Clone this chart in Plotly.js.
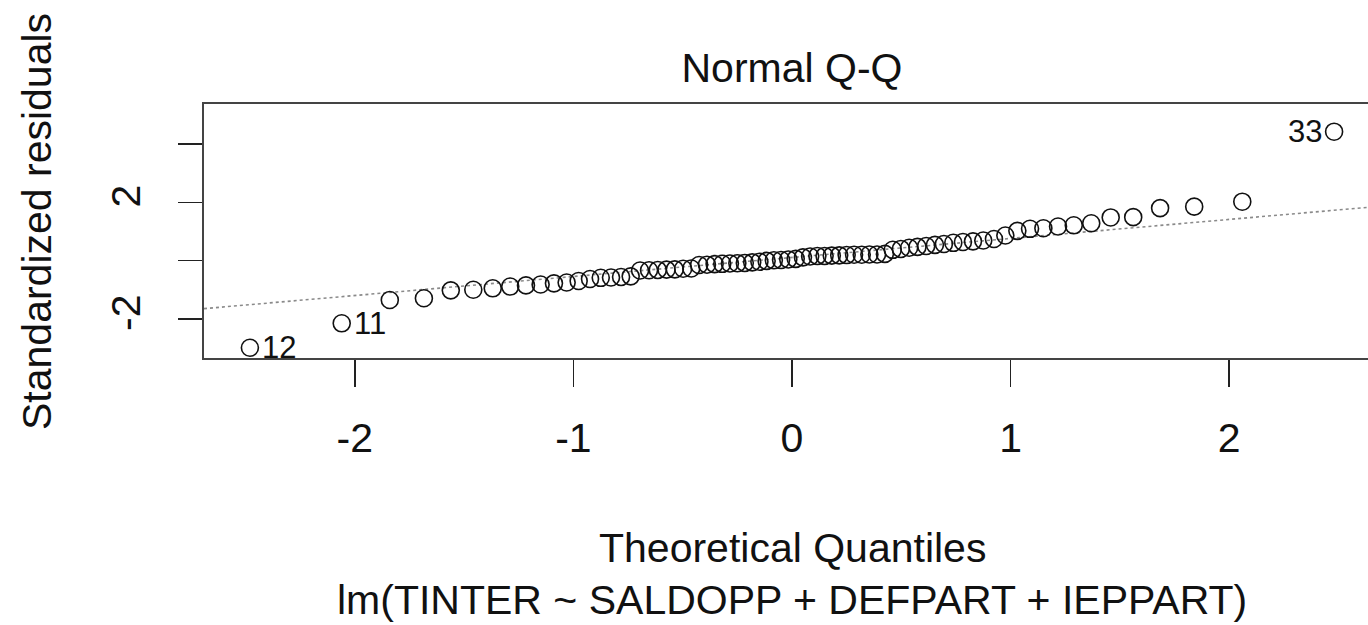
<!DOCTYPE html>
<html>
<head>
<meta charset="utf-8">
<script src="https://cdn.plot.ly/plotly-3.0.1.min.js"></script>
<style>
html,body{margin:0;padding:0;overflow:hidden;background:#fff;}
#chart{width:1400px;height:625px;}
</style>
</head>
<body>
<div id="chart"></div>
<script>
// Theoretical quantiles (x)
const theoreticalQuantiles = [-2.48,-2.06,-1.84,-1.684,-1.561,-1.458,-1.369,-1.289,-1.217,-1.150,
 -1.089,-1.031,-0.976,-0.924,-0.875,-0.828,-0.782,-0.738,-0.695,-0.654,
 -0.614,-0.574,-0.536,-0.498,-0.461,-0.425,-0.389,-0.354,-0.319,-0.284,
 -0.250,-0.216,-0.182,-0.149,-0.116,-0.083,-0.050,-0.017,
 0.017,0.050,0.083,0.116,0.149,0.182,0.216,0.250,0.284,0.319,
 0.354,0.389,0.425,0.461,0.498,0.536,0.574,0.614,0.654,0.695,
 0.738,0.782,0.828,0.875,0.924,0.976,1.031,1.089,1.150,1.217,
 1.289,1.369,1.458,1.561,1.684,1.84,2.06,2.48];
// Standardized residuals (y), sorted
const standardizedResiduals = [-2.99,-2.15,-1.35,-1.29,-1.02,-1.00,-0.95,-0.89,-0.85,-0.82,
 -0.78,-0.75,-0.70,-0.63,-0.59,-0.58,-0.56,-0.54,-0.34,-0.33,
 -0.32,-0.31,-0.30,-0.28,-0.27,-0.15,-0.14,-0.12,-0.11,-0.10,
 -0.09,-0.08,-0.06,-0.04,-0.01,0.01,0.02,0.04,0.06,0.11,
 0.14,0.16,0.16,0.17,0.18,0.19,0.20,0.20,0.21,0.21,
 0.23,0.37,0.40,0.44,0.47,0.50,0.54,0.57,0.61,0.64,
 0.66,0.69,0.74,0.86,1.02,1.09,1.11,1.17,1.21,1.28,
 1.48,1.49,1.80,1.85,2.02,4.42];
// Labelled points
const labelIndex = [0, 1, 75];
const labelText = ['12', '11', '33'];
// Axis ticks
const xTickVals = [-2, -1, 0, 1, 2];
const xTickText = ['-2', '-1', '0', '1', '2'];
const yTickVals = [-2, 0, 2, 4];
const yTickText = ['-2', '', '2', ''];
const xRange = [-2.69, 2.69];
const yRange = [-3.34, 5.37];

const titleText = 'Normal Q-Q';
const xTitleText = 'Theoretical Quantiles';
const subTitleText = 'lm(TINTER ~ SALDOPP + DEFPART + IEPPART)';
const yTitleText = 'Standardized residuals';

// qqline through the quartiles (R quantile type 7)
function q7(arr, p) {
  const s = arr.slice().sort((a, b) => a - b);
  const h = (s.length - 1) * p;
  const lo = Math.floor(h);
  return s[lo] + (h - lo) * (s[Math.min(lo + 1, s.length - 1)] - s[lo]);
}
const zq = 0.6744898;
const y25 = q7(standardizedResiduals, 0.25), y75 = q7(standardizedResiduals, 0.75);
const slope = (y75 - y25) / (2 * zq);
const intercept = y25 + slope * zq;

const FONT = 'Liberation Sans, Arial, Helvetica, sans-serif';
const TXT = '#111';

const traces = [
  {
    x: xRange, y: xRange.map(v => intercept + slope * v),
    mode: 'lines', line: {color: '#8a8a8a', width: 1.6, dash: 'dot'},
    hoverinfo: 'skip', showlegend: false
  },
  {
    x: theoreticalQuantiles, y: standardizedResiduals,
    mode: 'markers', type: 'scatter',
    marker: {symbol: 'circle-open', size: 17, color: '#111', line: {width: 1.6, color: '#111'}},
    showlegend: false
  }
];

const annotations = labelIndex.map((idx, k) => {
  const right = theoreticalQuantiles[idx] > 0;
  return {
    x: theoreticalQuantiles[idx], y: standardizedResiduals[idx], xref: 'x', yref: 'y',
    text: labelText[k], showarrow: false,
    xanchor: right ? 'right' : 'left', yanchor: 'middle',
    xshift: right ? -10 : 10, yshift: 0,
    font: {family: FONT, size: 31, color: TXT}
  };
});
annotations.push(
  {x: 0.5, y: (358 - 548) / 254, xref: 'paper', yref: 'paper', text: xTitleText, showarrow: false,
   xanchor: 'center', yanchor: 'middle', font: {family: FONT, size: 41, color: TXT}},
  {x: 0.5, y: (358 - 600) / 254, xref: 'paper', yref: 'paper', text: subTitleText, showarrow: false,
   xanchor: 'center', yanchor: 'middle', font: {family: FONT, size: 41, color: TXT}},
  {x: (37 - 204) / 1176, y: (358 - 222) / 254, xref: 'paper', yref: 'paper', text: yTitleText, showarrow: false,
   textangle: -90, xanchor: 'center', yanchor: 'middle', font: {family: FONT, size: 41, color: TXT}}
);

const layout = {
  width: 1400, height: 625,
  margin: {l: 204, r: 20, t: 104, b: 267, pad: 0},
  paper_bgcolor: '#fff', plot_bgcolor: '#fff',
  title: {text: titleText, x: 0.5, xref: 'paper', xanchor: 'center',
          y: 1 - 68 / 625, yref: 'container', yanchor: 'middle',
          font: {family: FONT, size: 41, color: TXT}},
  xaxis: {range: xRange, tickvals: xTickVals, ticktext: xTickText, ticks: 'outside', ticklen: 27,
          tickwidth: 1.5, tickcolor: '#222', showline: true, mirror: true, linecolor: '#444', linewidth: 2,
          showgrid: false, zeroline: false, ticklabelstandoff: 16,
          tickfont: {family: FONT, size: 41, color: TXT}},
  yaxis: {range: yRange, tickvals: yTickVals, ticktext: yTickText, ticks: 'outside', ticklen: 24,
          tickwidth: 1.5, tickcolor: '#222', showline: true, mirror: true, linecolor: '#444', linewidth: 2,
          showgrid: false, zeroline: false, tickangle: -90, ticklabelstandoff: 22,
          tickfont: {family: FONT, size: 41, color: TXT}},
  annotations: annotations,
  showlegend: false
};

Plotly.newPlot('chart', traces, layout, {displayModeBar: false, staticPlot: true});
</script>
</body>
</html>
